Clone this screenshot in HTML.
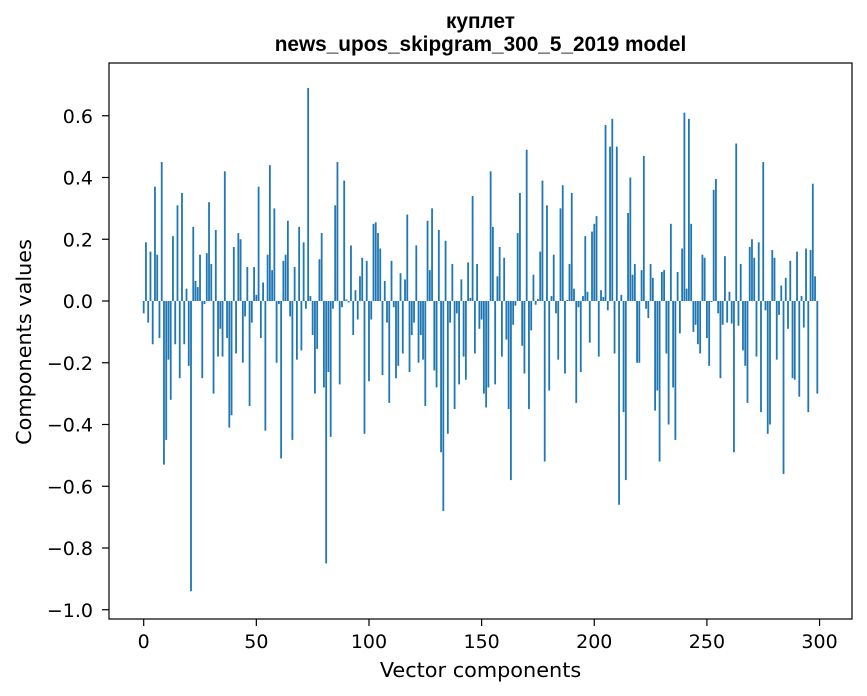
<!DOCTYPE html>
<html><head><meta charset="utf-8"><style>
html,body{margin:0;padding:0;background:#fff;}
svg{display:block;font-family:"DejaVu Sans","Liberation Sans",sans-serif;}
</style></head><body>
<svg id="chart" width="867" height="696" viewBox="0 0 867 696" xmlns="http://www.w3.org/2000/svg">
<rect x="0" y="0" width="867" height="696" fill="#fff"/>
<text x="480.5" y="28" text-anchor="middle" font-size="20.8" font-weight="bold" font-family="Liberation Sans, sans-serif">куплет</text>
<text x="480.5" y="51" text-anchor="middle" font-size="20.8" font-weight="bold" font-family="Liberation Sans, sans-serif">news_upos_skipgram_300_5_2019 model</text>
<g id="bars"></g>
<g id="xticks"></g>
<g id="yticks"></g>
<rect x="109" y="63" width="743" height="556" fill="none" stroke="#000" stroke-width="1.2"/>
<text x="480.5" y="677" text-anchor="middle" font-size="20.8">Vector components</text>
<text transform="translate(31,342) rotate(-90)" text-anchor="middle" font-size="20.8">Components values</text>
</svg>
<script>
const values = [
-0.04,0.19,-0.07,0.16,-0.14,0.37,0.15,-0.12,0.45,-0.53,
-0.45,-0.19,-0.32,0.21,-0.14,0.31,-0.25,0.35,-0.14,0.04,
-0.21,-0.94,0.24,0.065,0.045,0.15,-0.25,-0.01,0.155,0.32,
0.12,-0.30,0.23,-0.18,-0.09,-0.18,0.42,-0.12,-0.41,-0.37,
0.175,-0.17,0.22,0.20,-0.20,-0.05,0.11,-0.34,-0.07,0.11,
0.02,0.37,-0.12,0.06,-0.42,0.15,0.44,0.10,0.30,-0.20,
-0.01,-0.51,0.13,0.15,0.26,-0.05,-0.45,0.11,-0.19,0.24,
-0.16,0.19,-0.025,0.69,0.016,-0.11,-0.30,-0.155,0.135,0.22,
-0.28,-0.85,-0.23,-0.44,-0.025,0.31,0.45,-0.27,-0.02,0.39,
0.005,-0.005,0.18,-0.11,0.035,-0.06,0.08,0.14,-0.43,0.13,
-0.26,-0.06,0.25,0.255,0.22,0.17,-0.24,0.065,-0.07,-0.33,
0.13,-0.02,-0.25,-0.21,0.09,-0.17,0.07,0.28,-0.23,-0.11,
-0.07,0.18,-0.20,-0.11,-0.19,-0.34,0.26,0.10,0.30,-0.225,
-0.28,0.23,-0.49,-0.68,0.195,-0.43,-0.07,0.12,-0.35,-0.04,
-0.27,0.07,-0.18,-0.255,0.125,0.01,0.34,-0.17,0.12,-0.09,
-0.06,-0.30,-0.345,-0.28,0.42,0.24,-0.27,0.08,0.175,-0.18,
0.14,-0.125,-0.35,-0.58,-0.077,-0.015,0.22,0.35,-0.145,-0.235,
0.49,-0.35,-0.095,0.085,-0.012,0.006,0.16,0.39,-0.52,0.31,
-0.29,0.016,0.15,-0.04,-0.19,0.30,0.375,-0.235,0.003,0.12,
0.35,0.04,-0.33,-0.02,-0.23,0.016,0.21,0.03,-0.135,0.225,
0.25,0.275,-0.18,0.035,0.013,0.57,-0.03,0.50,0.59,-0.17,
0.50,-0.66,0.02,-0.36,-0.58,0.285,0.40,0.085,0.12,-0.20,
-0.20,0.10,0.47,-0.025,-0.055,0.12,0.075,-0.355,-0.29,-0.52,
0.094,0.10,-0.17,-0.40,0.25,-0.28,-0.45,0.094,-0.105,0.17,
0.61,0.04,0.59,0.25,-0.10,-0.077,-0.14,-0.17,0.15,0.14,
-0.12,-0.21,-0.003,0.36,0.395,-0.04,-0.25,-0.077,0.145,-0.07,
0.03,-0.073,-0.49,0.51,-0.08,0.12,-0.16,-0.21,-0.33,0.175,
0.20,0.14,-0.18,0.19,-0.36,0.45,-0.03,-0.43,-0.40,0.165,
0.14,-0.19,-0.045,0.05,-0.56,0.075,-0.09,0.13,-0.25,-0.255,
0.16,-0.31,0.016,-0.086,0.17,-0.36,0.165,0.38,0.08,-0.30
];
const xTickValues = [0,50,100,150,200,250,300];
const yTickValues = [0.6,0.4,0.2,0.0,-0.2,-0.4,-0.6,-0.8,-1.0];
const yTickLabels = ["0.6","0.4","0.2","0.0","\u22120.2","\u22120.4","\u22120.6","\u22120.8","\u22121.0"];

const NS = "http://www.w3.org/2000/svg";
const PL = 109, PR = 852;
const XMIN = -15.4, XMAX = 314.4;
function xScale(v){ return PL + (v - XMIN) / (XMAX - XMIN) * (PR - PL); }
function yScale(v){ return 301 - v * 308.75; }

const barsG = document.getElementById('bars');
const bw = xScale(0.8) - xScale(0);
values.forEach((v, i) => {
  const r = document.createElementNS(NS, 'rect');
  const y0 = yScale(0), y1 = yScale(v);
  r.setAttribute('x', xScale(i) - bw / 2);
  r.setAttribute('y', Math.min(y0, y1));
  r.setAttribute('width', bw);
  r.setAttribute('height', Math.max(Math.abs(y1 - y0), 0.01));
  r.setAttribute('fill', '#1f77b4');
  
  
  barsG.appendChild(r);
});

const xg = document.getElementById('xticks');
xTickValues.forEach(t => {
  const x = xScale(t);
  const l = document.createElementNS(NS, 'line');
  l.setAttribute('x1', x); l.setAttribute('x2', x);
  l.setAttribute('y1', 619); l.setAttribute('y2', 626);
  l.setAttribute('stroke', '#000'); l.setAttribute('stroke-width', '1.2');
  
  
  xg.appendChild(l);
  const tx = document.createElementNS(NS, 'text');
  tx.setAttribute('x', x); tx.setAttribute('y', 648);
  tx.setAttribute('text-anchor', 'middle'); tx.setAttribute('font-size', '19');
  tx.textContent = String(t);
  
  
  xg.appendChild(tx);
});

const yg = document.getElementById('yticks');
yTickValues.forEach((t, i) => {
  const y = yScale(t);
  const l = document.createElementNS(NS, 'line');
  l.setAttribute('x1', 102); l.setAttribute('x2', 109);
  l.setAttribute('y1', y); l.setAttribute('y2', y);
  l.setAttribute('stroke', '#000'); l.setAttribute('stroke-width', '1.2');
  
  
  yg.appendChild(l);
  const tx = document.createElementNS(NS, 'text');
  tx.setAttribute('x', 93); tx.setAttribute('y', y + 7);
  tx.setAttribute('text-anchor', 'end'); tx.setAttribute('font-size', '19');
  tx.textContent = yTickLabels[i];
  
  
  yg.appendChild(tx);
});
</script>
</body></html>
